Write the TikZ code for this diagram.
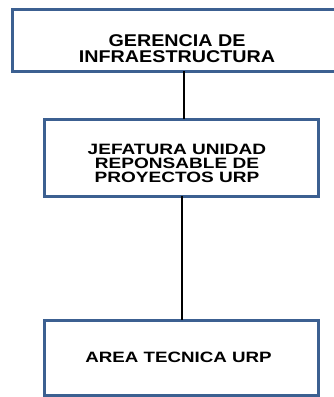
\documentclass[tikz,border=0pt]{standalone}
\usepackage{fontspec}
\setmainfont{Liberation Sans}
\usepackage{graphicx}
\definecolor{boxblue}{RGB}{60,96,145}
\begin{document}
\begin{tikzpicture}[x=1pt,y=-1pt,
  box/.style={draw=boxblue, line width=3pt, fill=white, outer sep=0pt, inner sep=0pt},
  conn/.style={draw=black, line width=2pt},
  txta/.style={inner sep=0pt, font=\bfseries\fontsize{17}{16}\selectfont},
  txtb/.style={inner sep=0pt, font=\bfseries\fontsize{15}{12}\selectfont}]
\useasboundingbox (0,0) rectangle (334,397);
\clip (0,0) rectangle (334,397);
\node[box, minimum width=330pt, minimum height=62pt] (b1) at (177,40) {};
\node[box, minimum width=274pt, minimum height=77pt] (b2) at (181,157.5) {};
\node[box, minimum width=274pt, minimum height=75pt] (b3) at (181,357.5) {};
\node[txta] (t1) at (177,51) {\scalebox{1.16}[1]{\begin{tabular}{@{}c@{}}GERENCIA DE\\INFRAESTRUCTURA\end{tabular}}};
\node[txtb] (t2) at (177,165.5) {\scalebox{1.27}[1]{\begin{tabular}{@{}c@{}}JEFATURA UNIDAD\\REPONSABLE DE\\PROYECTOS URP\end{tabular}}};
\node[txtb] (t3) at (178.5,357) {\scalebox{1.25}[1]{AREA TECNICA URP}};
\draw[conn] ([xshift=7pt]b1.south) -- ([xshift=3pt]b2.north);
\draw[conn] ([xshift=1pt]b2.south) -- ([xshift=1pt]b3.north);
\end{tikzpicture}
\end{document}
